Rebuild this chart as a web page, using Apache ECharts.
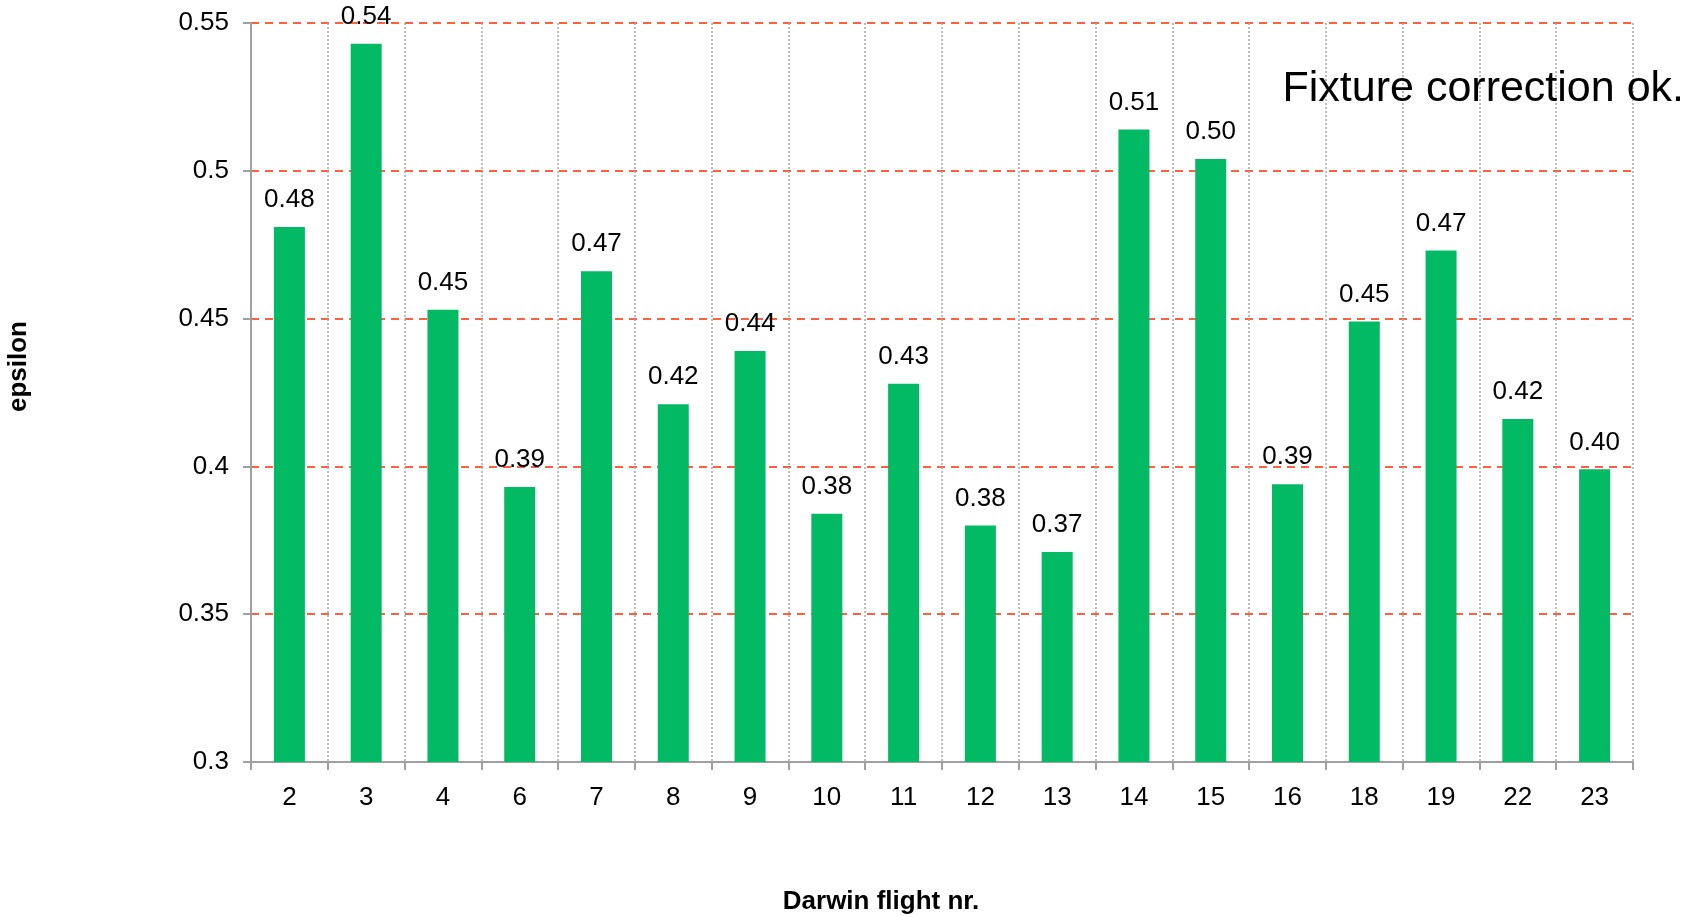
<!DOCTYPE html>
<html>
<head>
<meta charset="utf-8">
<script src="https://cdn.jsdelivr.net/npm/echarts@6/dist/echarts.min.js"></script>
<style>
  html, body { margin: 0; padding: 0; background: #fff; }
  #chart { width: 1696px; height: 917px; }
</style>
</head>
<body>
<div id="chart"></div>
<script>
// Darwin flights and measured epsilon per flight
const flights = ['2', '3', '4', '6', '7', '8', '9', '10', '11', '12', '13', '14', '15', '16', '18', '19', '22', '23'];
const epsilon = [0.481, 0.543, 0.453, 0.393, 0.466, 0.421, 0.439, 0.384, 0.428, 0.380, 0.371, 0.514, 0.504, 0.394, 0.449, 0.473, 0.416, 0.399];
const yTicks = { min: 0.3, max: 0.55, step: 0.05 };

const font = 'Liberation Sans, Arial, sans-serif';
const chart = echarts.init(document.getElementById('chart'));

chart.setOption({
  animation: false,
  backgroundColor: '#ffffff',
  grid: { left: 251, right: 63, top: 23, bottom: 155, containLabel: false, outerBoundsMode: 'none' },
  title: {
    text: 'Fixture correction ok.',
    right: 7,
    top: 63,
    textStyle: { fontFamily: font, fontSize: 43, fontWeight: 'normal', color: '#000' }
  },
  xAxis: {
    type: 'category',
    data: flights,
    name: 'Darwin flight nr.',
    nameLocation: 'middle',
    nameGap: 127,
    nameTextStyle: {
      fontFamily: font, fontSize: 26, fontWeight: 'bold', color: '#000',
      padding: [0, 122, 0, 0]
    },
    axisLine: { lineStyle: { color: '#a0a0a0', width: 2 } },
    axisTick: { show: true, length: 8, lineStyle: { color: '#a0a0a0', width: 2 } },
    axisLabel: { fontFamily: font, fontSize: 26, color: '#000', margin: 23 },
    splitLine: { show: true, lineStyle: { color: '#a6a6a6', type: [2, 2], width: 1.5 } }
  },
  yAxis: {
    type: 'value',
    min: yTicks.min,
    max: yTicks.max,
    interval: yTicks.step,
    name: 'epsilon',
    nameLocation: 'middle',
    nameGap: 219,
    nameRotate: 90,
    nameTextStyle: {
      fontFamily: font, fontSize: 26, fontWeight: 'bold', color: '#000',
      padding: [0, 0, 0, 52]
    },
    axisLine: { show: true, lineStyle: { color: '#a0a0a0', width: 2 } },
    axisTick: { show: true, length: 8, lineStyle: { color: '#a0a0a0', width: 2 } },
    axisLabel: {
      fontFamily: font, fontSize: 26, color: '#000', margin: 22,
      formatter: v => String(parseFloat(v.toFixed(2)))
    },
    splitLine: { show: true, lineStyle: { color: '#ff2a00', type: [8, 6], width: 1.5 } }
  },
  series: [{
    type: 'bar',
    data: epsilon,
    barWidth: 31,
    itemStyle: { color: '#02b964' },
    label: {
      show: true,
      position: 'top',
      distance: 14,
      fontFamily: font,
      fontSize: 26,
      color: '#000',
      formatter: p => p.value.toFixed(2)
    }
  }]
});
</script>
</body>
</html>
